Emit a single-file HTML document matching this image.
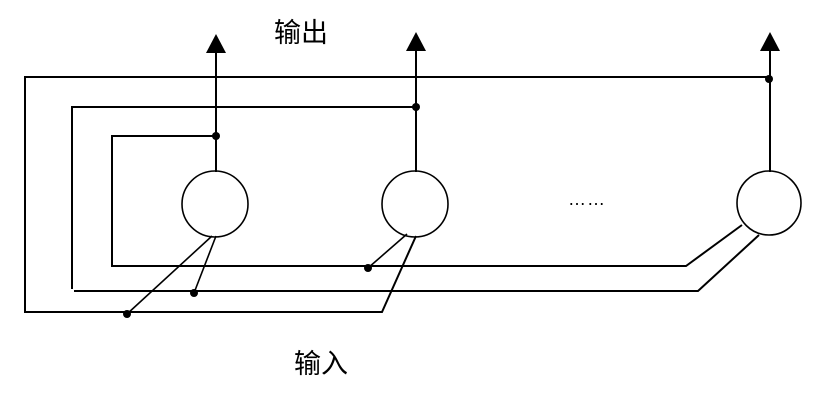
<!DOCTYPE html>
<html><head><meta charset="utf-8"><style>
body{margin:0;background:#fff;width:822px;height:401px;overflow:hidden}
text{font-family:"Liberation Sans","Noto Sans CJK SC",sans-serif}
</style></head><body>
<svg width="822" height="401" viewBox="0 0 822 401" xmlns="http://www.w3.org/2000/svg">
<g stroke="#000" stroke-width="2" fill="none">
<polyline points="770,77 25,77 25,312 382,312 416,236"/>
<polyline points="416,107 72,107 72,289"/>
<polyline points="74,291 698,291 759,235"/>
<polyline points="216,136 112,136 112,266 686,266 742,225"/>
<line x1="216" y1="50" x2="216" y2="172"/>
<line x1="416" y1="48" x2="416" y2="172"/>
<line x1="770" y1="48" x2="770" y2="172"/>
<circle cx="215" cy="204" r="33" stroke-width="1.6"/>
<circle cx="415" cy="204" r="33" stroke-width="1.6"/>
<circle cx="769" cy="203" r="32" stroke-width="1.6"/>
<line x1="212" y1="236" x2="127" y2="314" stroke-width="1.6"/>
<line x1="216" y1="236" x2="194" y2="293" stroke-width="1.6"/>
<line x1="407" y1="234" x2="368" y2="268" stroke-width="1.6"/>
</g>
<g fill="#000">
<polygon points="216,34 206,53 226,53"/>
<polygon points="416,32 406,51 426,51"/>
<polygon points="770,32 760,51 780,51"/>
<circle cx="216" cy="136" r="4"/>
<circle cx="416" cy="107" r="4"/>
<circle cx="769" cy="79" r="4"/>
<circle cx="368" cy="268" r="4"/>
<circle cx="194" cy="293" r="4"/>
<circle cx="127" cy="314" r="4"/>
</g>
<text x="274" y="42" font-size="27">输出</text>
<text x="294" y="373" font-size="27">输入</text>
<text x="568" y="205" font-size="18" letter-spacing="1">……</text>
</svg>
</body></html>
